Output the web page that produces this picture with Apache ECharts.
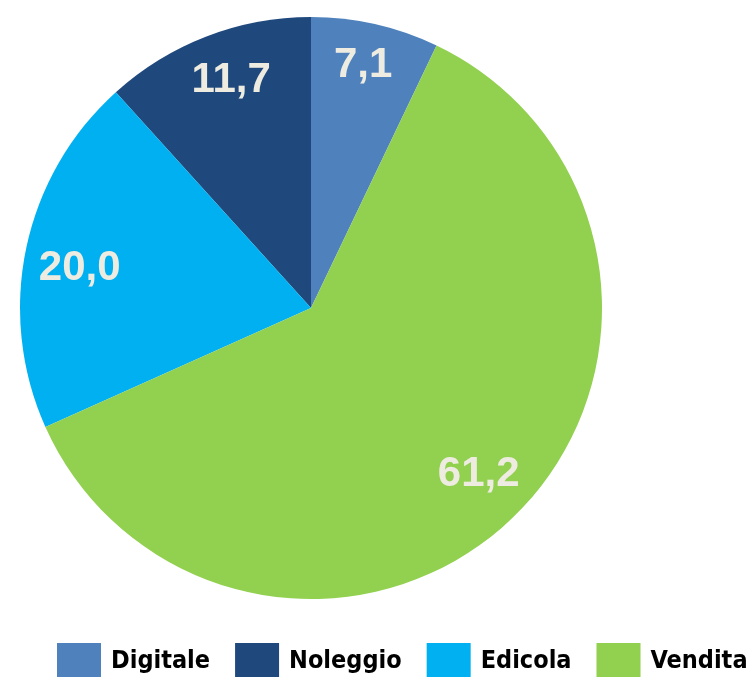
<!DOCTYPE html>
<html>
<head>
<meta charset="utf-8">
<script src="https://cdn.jsdelivr.net/npm/echarts@6/dist/echarts.min.js"></script>
<style>
  html, body { margin: 0; padding: 0; background: #fff; }
  #main { width: 756px; height: 677px; }
</style>
</head>
<body>
<div id="main"></div>
<script>
// dati del grafico
var categories = ['Digitale', 'Noleggio', 'Edicola', 'Vendita'];
var values = [7.1, 11.7, 20.0, 61.2];
var colors = ['#4f81bd', '#1f497d', '#00b0f0', '#92d050'];
// piccoli spostamenti delle etichette (come nel grafico originale)
var labelShift = [[-2, -4], [8, 1], [8, 11], [-3, -9]];

var pieData = [];
for (var i = 0; i < categories.length; i++) {
  pieData.push({
    name: categories[i],
    value: values[i],
    itemStyle: { color: colors[i] }
  });
}

var myChart = echarts.init(document.getElementById('main'));
var center = [311, 308];
var radius = 291;
// la prima fetta (Digitale) finisce a destra delle 12, poi si gira in senso antiorario
var startAngle = 90 - values[0] * 3.6;

var option = {
  animation: false,
  legend: {
    data: categories,
    left: 57,
    top: 643,
    width: 900,
    padding: 0,
    itemWidth: 44,
    itemHeight: 36,
    itemGap: 25,
    icon: 'rect',
    textStyle: {
      fontFamily: '"Liberation Sans Narrow", "DejaVu Sans Condensed", "Liberation Sans", sans-serif',
      fontWeight: 'bold',
      fontSize: 25,
      color: '#000',
      padding: [10, 0, 0, 5]
    }
  },
  series: [
    {
      type: 'pie',
      center: center,
      radius: radius,
      startAngle: startAngle,
      clockwise: false,
      silent: true,
      label: { show: false },
      labelLine: { show: false },
      data: pieData
    },
    {
      // serie trasparente usata solo per posizionare le etichette
      type: 'pie',
      center: center,
      radius: [radius * 0.66, radius],
      startAngle: startAngle,
      clockwise: false,
      silent: true,
      itemStyle: { color: 'rgba(0,0,0,0)' },
      label: {
        show: true,
        position: 'inside',
        fontFamily: '"Liberation Sans", Arial, sans-serif',
        fontWeight: 'bold',
        fontSize: 42,
        color: '#eeece1',
        formatter: function (p) {
          return p.value.toFixed(1).replace('.', ',');
        }
      },
      labelLayout: function (params) {
        var s = labelShift[params.dataIndex];
        return { dx: s[0], dy: s[1] };
      },
      labelLine: { show: false },
      data: categories.map(function (c, i) {
        return { name: c, value: values[i] };
      })
    }
  ]
};
myChart.setOption(option);
</script>
</body>
</html>
